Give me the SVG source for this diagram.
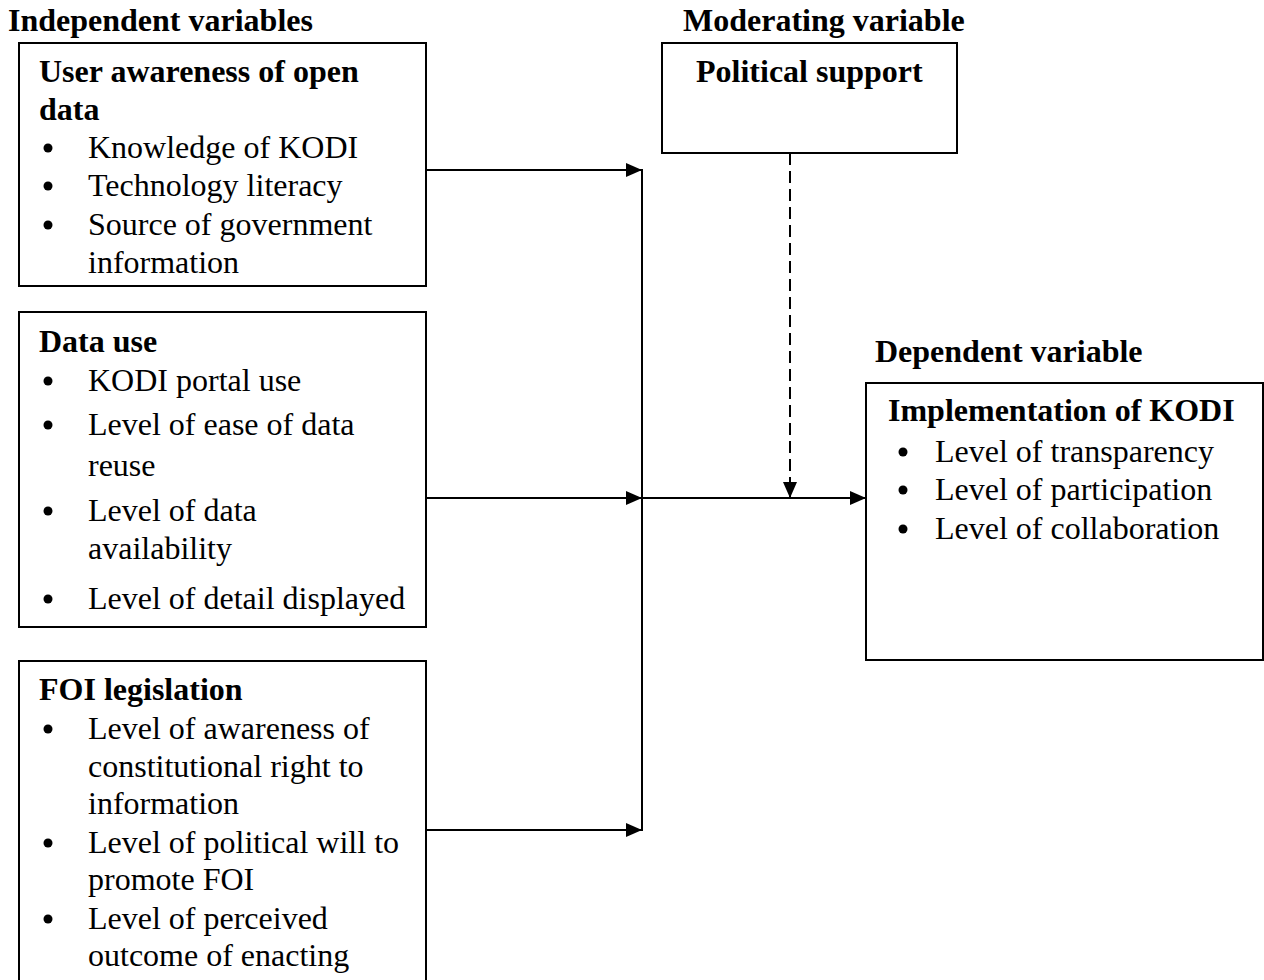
<svg xmlns="http://www.w3.org/2000/svg" width="1264" height="980" viewBox="0 0 1264 980">
<style>
text{font-family:"Liberation Serif","Times New Roman",serif;font-size:32px;fill:#000}
.b{font-weight:bold}
.box{fill:#fff;stroke:#000;stroke-width:2}
.ln{fill:none;stroke:#000;stroke-width:2}
.dash{fill:none;stroke:#000;stroke-width:2;stroke-dasharray:12,6}
.bul{fill:#000}
</style>
<defs>
<marker id="ah" markerWidth="16" markerHeight="14" refX="15" refY="7" orient="auto" markerUnits="userSpaceOnUse">
<path d="M0,0 L16,7 L0,14 Z" fill="#000"/>
</marker>
</defs>
<rect width="1264" height="980" fill="#fff"/>
<text class="b" x="8" y="31">Independent variables</text>
<text class="b" x="683" y="31">Moderating variable</text>
<text class="b" x="875" y="362">Dependent variable</text>

<g id="connectors">
<line class="ln" x1="426" y1="170" x2="641" y2="170" marker-end="url(#ah)"/>
<line class="ln" x1="426" y1="498" x2="641" y2="498" marker-end="url(#ah)"/>
<line class="ln" x1="426" y1="830" x2="641" y2="830" marker-end="url(#ah)"/>
<line class="ln" x1="642" y1="169" x2="642" y2="831"/>
<line class="ln" x1="642" y1="498" x2="865" y2="498" marker-end="url(#ah)"/>
<line class="dash" x1="790" y1="153" x2="790" y2="497" marker-end="url(#ah)"/>
</g>

<g id="node-awareness">
<rect class="box" x="19" y="43" width="407" height="243"/>
<text class="b" x="39" y="82">User awareness of open</text>
<text class="b" x="39" y="120">data</text>
<circle class="bul" cx="48" cy="148" r="4.5"/><text x="88" y="158">Knowledge of KODI</text>
<circle class="bul" cx="48" cy="186" r="4.5"/><text x="88" y="196">Technology literacy</text>
<circle class="bul" cx="48" cy="225" r="4.5"/><text x="88" y="235">Source of government</text>
<text x="88" y="273">information</text>
</g>

<g id="node-datause">
<rect class="box" x="19" y="312" width="407" height="315"/>
<text class="b" x="39" y="352">Data use</text>
<circle class="bul" cx="48" cy="381" r="4.5"/><text x="88" y="391">KODI portal use</text>
<circle class="bul" cx="48" cy="425" r="4.5"/><text x="88" y="435">Level of ease of data</text>
<text x="88" y="476">reuse</text>
<circle class="bul" cx="48" cy="511" r="4.5"/><text x="88" y="521">Level of data</text>
<text x="88" y="559">availability</text>
<circle class="bul" cx="48" cy="599" r="4.5"/><text x="88" y="609">Level of detail displayed</text>
</g>

<g id="node-foi">
<rect class="box" x="19" y="661" width="407" height="340"/>
<text class="b" x="39" y="700">FOI legislation</text>
<circle class="bul" cx="48" cy="729" r="4.5"/><text x="88" y="739">Level of awareness of</text>
<text x="88" y="777">constitutional right to</text>
<text x="88" y="814">information</text>
<circle class="bul" cx="48" cy="843" r="4.5"/><text x="88" y="853">Level of political will to</text>
<text x="88" y="890">promote FOI</text>
<circle class="bul" cx="48" cy="919" r="4.5"/><text x="88" y="929">Level of perceived</text>
<text x="88" y="966">outcome of enacting</text>
</g>

<g id="node-political">
<rect class="box" x="662" y="43" width="295" height="110"/>
<text class="b" x="696" y="82">Political support</text>
</g>

<g id="node-implementation">
<rect class="box" x="866" y="383" width="397" height="277"/>
<text class="b" x="888" y="421">Implementation of KODI</text>
<circle class="bul" cx="903" cy="452" r="4.5"/><text x="935" y="462">Level of transparency</text>
<circle class="bul" cx="903" cy="490" r="4.5"/><text x="935" y="500">Level of participation</text>
<circle class="bul" cx="903" cy="529" r="4.5"/><text x="935" y="539">Level of collaboration</text>
</g>
</svg>
